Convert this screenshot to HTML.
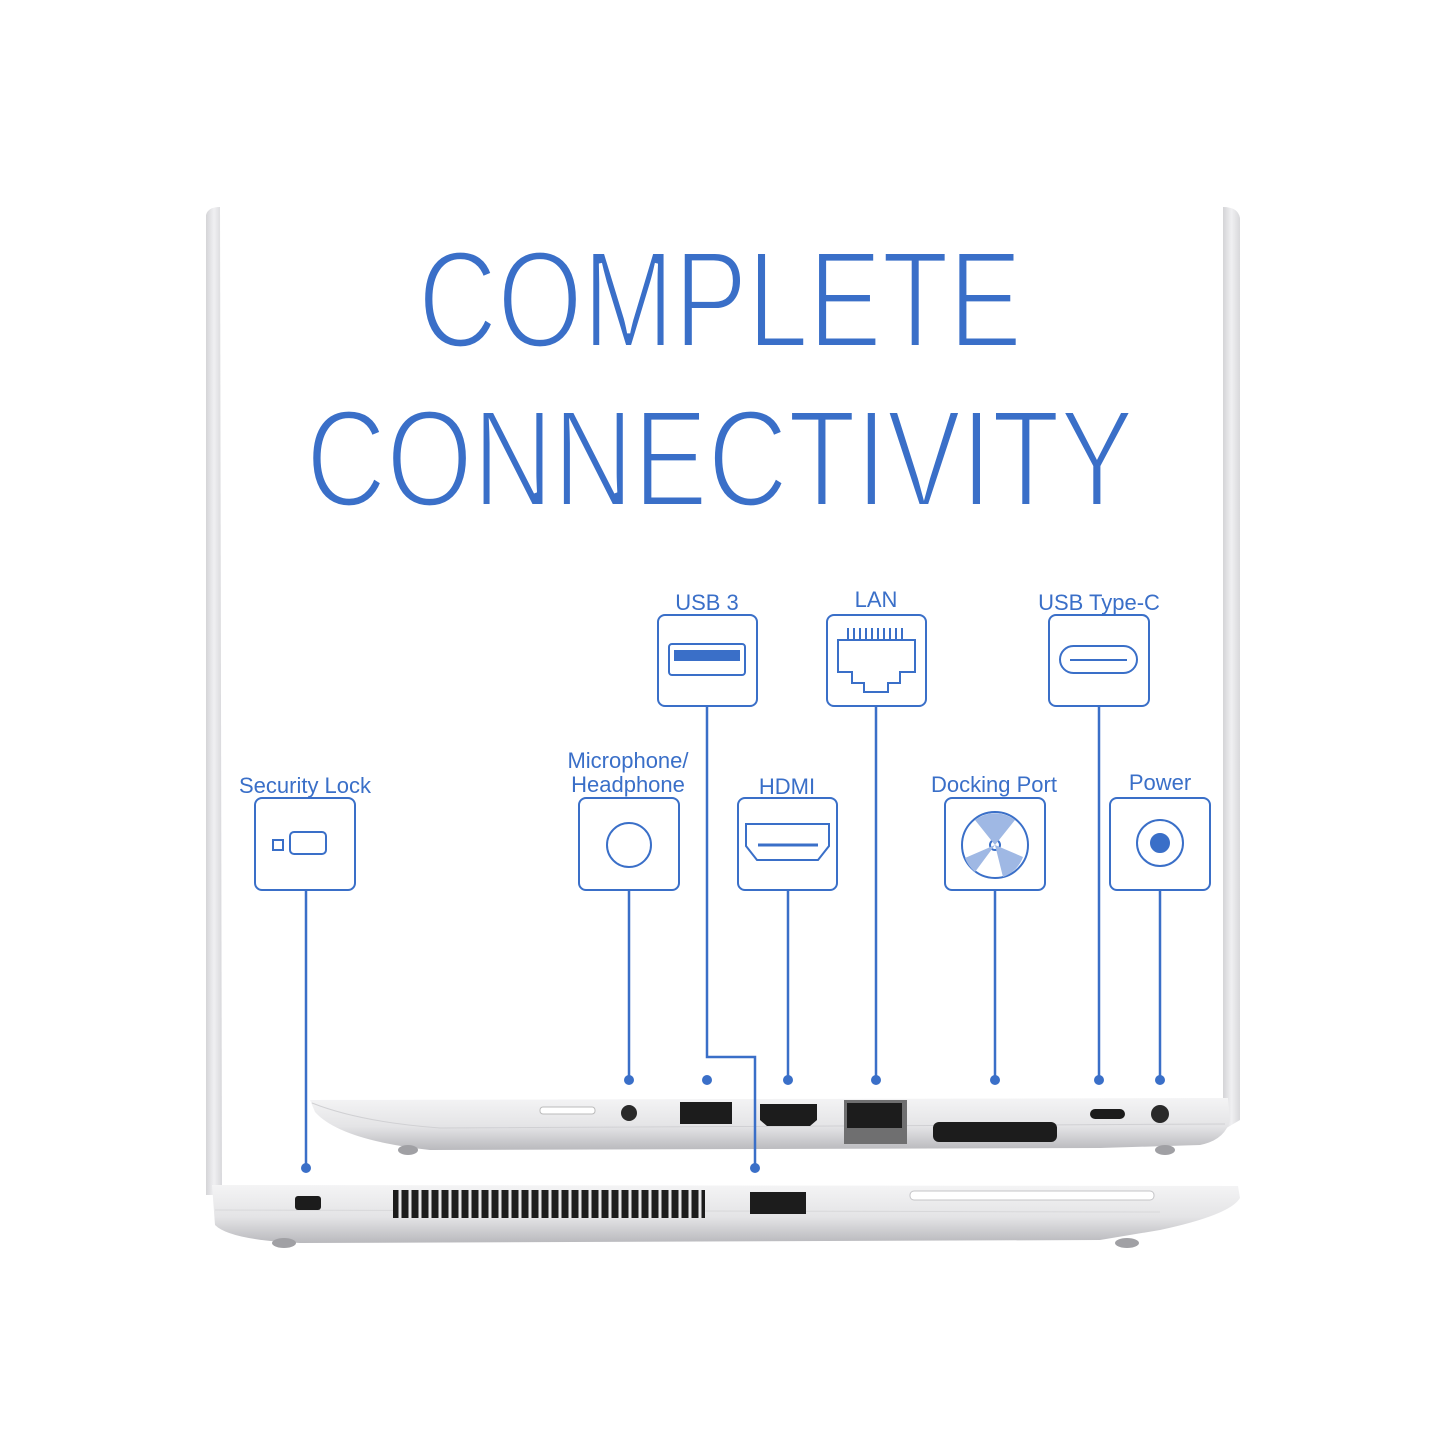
<!DOCTYPE html>
<html><head><style>html,body{margin:0;padding:0;background:#fff}svg{display:block}</style></head>
<body>
<svg width="1445" height="1445" viewBox="0 0 1445 1445" xmlns="http://www.w3.org/2000/svg" font-family="Liberation Sans, sans-serif">
<defs>
<linearGradient id="side" x1="0" y1="0" x2="0" y2="1"><stop offset="0" stop-color="#f4f4f5"/><stop offset="0.55" stop-color="#e4e4e6"/><stop offset="1" stop-color="#b9b9bd"/></linearGradient>
<linearGradient id="bez" x1="0" y1="0" x2="1" y2="0"><stop offset="0" stop-color="#d4d4d7"/><stop offset="0.5" stop-color="#f0f0f2"/><stop offset="1" stop-color="#d8d8db"/></linearGradient>
</defs>
<rect width="1445" height="1445" fill="#fff"/>
<!-- bezels -->
<path d="M206 215 Q208 207 220 207 L222 1195 L206 1195 Z" fill="url(#bez)"/>
<path d="M1223 207 Q1238 207 1240 218 L1240 1120 L1223 1130 Z" fill="url(#bez)"/>
<!-- title -->
<g fill="#3a6fc8" font-size="138" stroke="#fff" stroke-width="4">
<text x="418" y="347" textLength="604" lengthAdjust="spacingAndGlyphs">COMPLETE</text>
<text x="306" y="506" textLength="828" lengthAdjust="spacingAndGlyphs">CONNECTIVITY</text>
</g>
<!-- boxes -->
<g stroke="#3a6fc8" stroke-width="2" fill="#fff">
<rect x="658" y="615" width="99" height="91" rx="7"/>
<rect x="827" y="615" width="99" height="91" rx="7"/>
<rect x="1049" y="615" width="100" height="91" rx="7"/>
<rect x="255" y="798" width="100" height="92" rx="7"/>
<rect x="579" y="798" width="100" height="92" rx="7"/>
<rect x="738" y="798" width="99" height="92" rx="7"/>
<rect x="945" y="798" width="100" height="92" rx="7"/>
<rect x="1110" y="798" width="100" height="92" rx="7"/>
</g>
<!-- labels -->
<g fill="#3a6fc8" font-size="22" text-anchor="middle">
<text x="707" y="610">USB 3</text>
<text x="876" y="607">LAN</text>
<text x="1099" y="610">USB Type-C</text>
<text x="305" y="793">Security Lock</text>
<text x="628" y="768">Microphone/</text>
<text x="628" y="792">Headphone</text>
<text x="787" y="794">HDMI</text>
<text x="994" y="792">Docking Port</text>
<text x="1160" y="790">Power</text>
</g>
<!-- icons -->
<g stroke="#3a6fc8" stroke-width="2" fill="none">
<rect x="669" y="644" width="76" height="31" rx="3"/>
<rect x="674" y="650" width="66" height="11" fill="#3a6fc8" stroke="none"/>
<path d="M838 640 H915 V672 H900 V683 H888 V692 H864 V683 H852 V672 H838 Z"/>
<path d="M848 628 V640 M854 628 V640 M860 628 V640 M866 628 V640 M872 628 V640 M878 628 V640 M884 628 V640 M890 628 V640 M896 628 V640 M902 628 V640"/>
<rect x="1060" y="646" width="77" height="27" rx="13.5"/>
<path d="M1070 660 H1127"/>
<rect x="290" y="832" width="36" height="22" rx="4"/>
<rect x="273" y="840" width="10" height="10"/>
<circle cx="629" cy="845" r="22"/>
<path d="M746 824 H829 V846 L818 860 H757 L746 846 Z"/>
<path d="M758 845 H818" stroke-width="3"/>
<circle cx="995" cy="845" r="33"/>
<circle cx="995" cy="845" r="5"/>
<path d="M995 845 L975 820 A33 33 0 0 1 1015 820 Z M995 845 L1023 857 A33 33 0 0 1 1003 877 Z M995 845 L965 858 A33 33 0 0 0 975 872 Z" fill="#9fb8e4" stroke="none"/>
<circle cx="1160" cy="843" r="23"/>
<circle cx="1160" cy="843" r="9" fill="#3a6fc8"/>
</g>
<!-- upper laptop side -->
<path d="M310 1100 L1228 1098 L1230 1120 Q1225 1140 1200 1145 L1100 1148 L430 1150 Q340 1140 315 1112 Z" fill="url(#side)"/>
<path d="M312 1103 Q360 1122 440 1128 L1225 1124" stroke="#d0d0d3" fill="none"/>
<ellipse cx="408" cy="1150" rx="10" ry="5" fill="#a0a0a4"/><ellipse cx="1165" cy="1150" rx="10" ry="5" fill="#a0a0a4"/>
<rect x="540" y="1107" width="55" height="7" rx="3" fill="#fff" stroke="#bbb"/>
<circle cx="629" cy="1113" r="8" fill="#2a2a2a"/>
<rect x="680" y="1102" width="52" height="22" fill="#1c1c1c"/>
<path d="M760 1104 H817 V1120 L810 1126 H767 L760 1120 Z" fill="#1c1c1c"/>
<rect x="844" y="1100" width="63" height="44" fill="#6f6f70"/>
<rect x="847" y="1103" width="55" height="25" fill="#1c1c1c"/>
<rect x="933" y="1122" width="124" height="20" rx="6" fill="#1c1c1c"/>
<rect x="1090" y="1109" width="35" height="10" rx="5" fill="#1c1c1c"/>
<circle cx="1160" cy="1114" r="9" fill="#2a2a2a"/>
<!-- lower laptop side -->
<path d="M212 1185 L1238 1186 L1240 1198 Q1230 1215 1160 1230 L1100 1240 L300 1243 Q230 1240 215 1225 Z" fill="url(#side)"/>
<path d="M215 1210 L1160 1212" stroke="#d8d8da" fill="none"/>
<ellipse cx="284" cy="1243" rx="12" ry="5" fill="#a0a0a4"/><ellipse cx="1127" cy="1243" rx="12" ry="5" fill="#a0a0a4"/>
<rect x="295" y="1196" width="26" height="14" rx="3" fill="#1c1c1c"/>
<rect x="393" y="1190" width="312" height="28" fill="#1c1c1c"/>
<g stroke="#e8e8ea" stroke-width="3">
<path d="M400 1190 V1218 M410 1190 V1218 M420 1190 V1218 M430 1190 V1218 M440 1190 V1218 M450 1190 V1218 M460 1190 V1218 M470 1190 V1218 M480 1190 V1218 M490 1190 V1218 M500 1190 V1218 M510 1190 V1218 M520 1190 V1218 M530 1190 V1218 M540 1190 V1218 M550 1190 V1218 M560 1190 V1218 M570 1190 V1218 M580 1190 V1218 M590 1190 V1218 M600 1190 V1218 M610 1190 V1218 M620 1190 V1218 M630 1190 V1218 M640 1190 V1218 M650 1190 V1218 M660 1190 V1218 M670 1190 V1218 M680 1190 V1218 M690 1190 V1218 M700 1190 V1218"/>
</g>
<rect x="750" y="1192" width="56" height="22" fill="#1c1c1c"/>
<rect x="910" y="1191" width="244" height="9" rx="4" fill="#fff" stroke="#c4c4c7"/>
<!-- connectors (on top) -->
<g stroke="#3a6fc8" stroke-width="2.5" fill="none">
<path d="M306 890 V1168"/><path d="M629 890 V1080"/><path d="M707 706 V1057 H755 V1168"/>
<path d="M788 890 V1080"/><path d="M876 706 V1080"/><path d="M995 890 V1080"/>
<path d="M1099 706 V1080"/><path d="M1160 890 V1080"/>
</g>
<g fill="#3a6fc8">
<circle cx="306" cy="1168" r="5"/><circle cx="629" cy="1080" r="5"/><circle cx="707" cy="1080" r="5"/><circle cx="755" cy="1168" r="5"/>
<circle cx="788" cy="1080" r="5"/><circle cx="876" cy="1080" r="5"/><circle cx="995" cy="1080" r="5"/><circle cx="1099" cy="1080" r="5"/><circle cx="1160" cy="1080" r="5"/>
</g>
</svg>
</body></html>
